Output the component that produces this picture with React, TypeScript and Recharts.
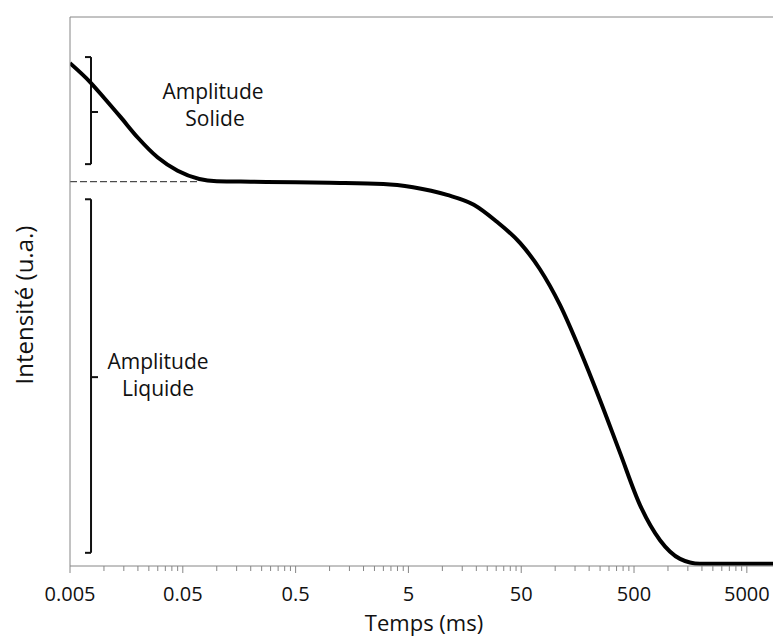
import React from 'react'
import {
   LineChart,
   Line,
   XAxis,
   YAxis,
   ReferenceLine,
   Label,
} from 'recharts'

// temps (ms) et intensité relue sur la courbe
const times = [
   0.005, 0.0075, 0.01, 0.014, 0.02, 0.03, 0.045, 0.07, 0.1, 0.2, 0.5, 1, 3,
   5.5, 11, 19, 30, 49, 73, 110, 166, 250, 376, 565, 850, 1280, 1920, 3000,
   8530,
]
const intensity = [
   0.916, 0.882, 0.853, 0.818, 0.78, 0.744, 0.72, 0.705, 0.701, 0.7, 0.699,
   0.698, 0.696, 0.69, 0.676, 0.658, 0.628, 0.588, 0.541, 0.476, 0.393, 0.302,
   0.206, 0.111, 0.047, 0.013, 0.004, 0.004, 0.004,
]

const majorTicks = [0.005, 0.05, 0.5, 5, 50, 500, 5000]
const minorFactors = [2, 3, 4, 5, 6, 7, 8, 9]
const yTicks = [0, 0.1, 0.2, 0.3, 0.4, 0.5, 0.6, 0.7, 0.8, 0.9, 1]

// crochets d'annotation (coordonnées données)
const solidBracket = { top: 0.927, mid: 0.827, bottom: 0.732 }
const liquidBracket = { top: 0.668, mid: 0.344, bottom: 0.024 }
const bracketX = 0.00768
const serifX = 0.00679
const midX = 0.00886
const plateau = 0.7

const data = times.map((t, i) => ({ t, v: intensity[i] }))
const minorTicks = majorTicks
   .slice(0, -1)
   .flatMap((m) => minorFactors.map((f) => +(m * f).toPrecision(3)))
const allTicks = [...majorTicks, ...minorTicks].sort((a, b) => a - b)

const FONT = '"Open Sans", sans-serif'
const GRAY = '#868686'

const XTick = (props: any) => {
   const { x, y, payload } = props
   const major = majorTicks.includes(payload.value)
   return (
      <g>
         <line x1={x} x2={x} y1={y} y2={y + (major ? 7 : 5)} stroke={GRAY} />
         {major && (
            <text
               x={x}
               y={y + 35}
               textAnchor="middle"
               fontFamily={FONT}
               fontSize={20}
               fill="#111"
            >
               {String(payload.value)}
            </text>
         )}
      </g>
   )
}

const bracket = (b: { top: number; mid: number; bottom: number }, key: string) => [
   <ReferenceLine
      key={key + 'v'}
      segment={[
         { x: bracketX, y: b.top },
         { x: bracketX, y: b.bottom },
      ]}
      stroke="#111"
      strokeWidth={2}
      ifOverflow="visible"
   />,
   <ReferenceLine
      key={key + 't'}
      segment={[
         { x: serifX, y: b.top },
         { x: bracketX, y: b.top },
      ]}
      stroke="#111"
      strokeWidth={2}
      ifOverflow="visible"
   />,
   <ReferenceLine
      key={key + 'b'}
      segment={[
         { x: serifX, y: b.bottom },
         { x: bracketX, y: b.bottom },
      ]}
      stroke="#111"
      strokeWidth={2}
      ifOverflow="visible"
   />,
   <ReferenceLine
      key={key + 'm'}
      segment={[
         { x: bracketX, y: b.mid },
         { x: midX, y: b.mid },
      ]}
      stroke="#111"
      strokeWidth={2}
      ifOverflow="visible"
   />,
]

const App = () => {
   return (
      <div style={{ position: 'absolute', left: 0, top: 0, width: 773, height: 637 }}>
         <LineChart
            width={773}
            height={637}
            data={data}
            margin={{ top: 17, right: 0, left: 0, bottom: 0 }}
         >
            <XAxis
               dataKey="t"
               type="number"
               scale="log"
               domain={[0.005, 8530]}
               allowDataOverflow
               ticks={allTicks}
               interval={0}
               tickLine={false}
               tickSize={0}
               tickMargin={0}
               tick={<XTick />}
               height={71}
               axisLine={{ stroke: GRAY }}
            >
               <Label
                  content={() => (
                     <text
                        x={424}
                        y={631}
                        textAnchor="middle"
                        fontFamily={FONT}
                        fontSize={22}
                        fill="#111"
                     >
                        Temps (ms)
                     </text>
                  )}
               />
            </XAxis>
            <YAxis
               type="number"
               domain={[0, 1]}
               ticks={yTicks}
               interval={0}
               tick={false}
               tickSize={7}
               tickLine={{ stroke: GRAY }}
               axisLine={{ stroke: GRAY }}
               width={70}
            >
               <Label
                  content={() => (
                     <text
                        x={33}
                        y={305}
                        transform="rotate(-90 33 305)"
                        textAnchor="middle"
                        fontFamily={FONT}
                        fontSize={24}
                        fill="#111"
                     >
                        Intensité (u.a.)
                     </text>
                  )}
               />
            </YAxis>
            <ReferenceLine y={1} stroke={GRAY} />
            <ReferenceLine
               segment={[
                  { x: 0.005, y: plateau },
                  { x: 0.07, y: plateau },
               ]}
               stroke="#222"
               strokeDasharray="7 3"
            />
            {bracket(solidBracket, 's')}
            {bracket(liquidBracket, 'l')}
            <Line
               type="monotone"
               dataKey="v"
               stroke="#000"
               strokeWidth={4}
               dot={false}
               activeDot={false}
               isAnimationActive={false}
            />
         </LineChart>
         <svg
            width={773}
            height={637}
            style={{ position: 'absolute', left: 0, top: 0, pointerEvents: 'none' }}
         >
            <g fontFamily={FONT} fontSize={21} fill="#111" textAnchor="middle">
               <text x={213} y={99}>Amplitude</text>
               <text x={215} y={126}>Solide</text>
               <text x={158} y={369}>Amplitude</text>
               <text x={158} y={396}>Liquide</text>
            </g>
         </svg>
      </div>
   )
}

export default App
